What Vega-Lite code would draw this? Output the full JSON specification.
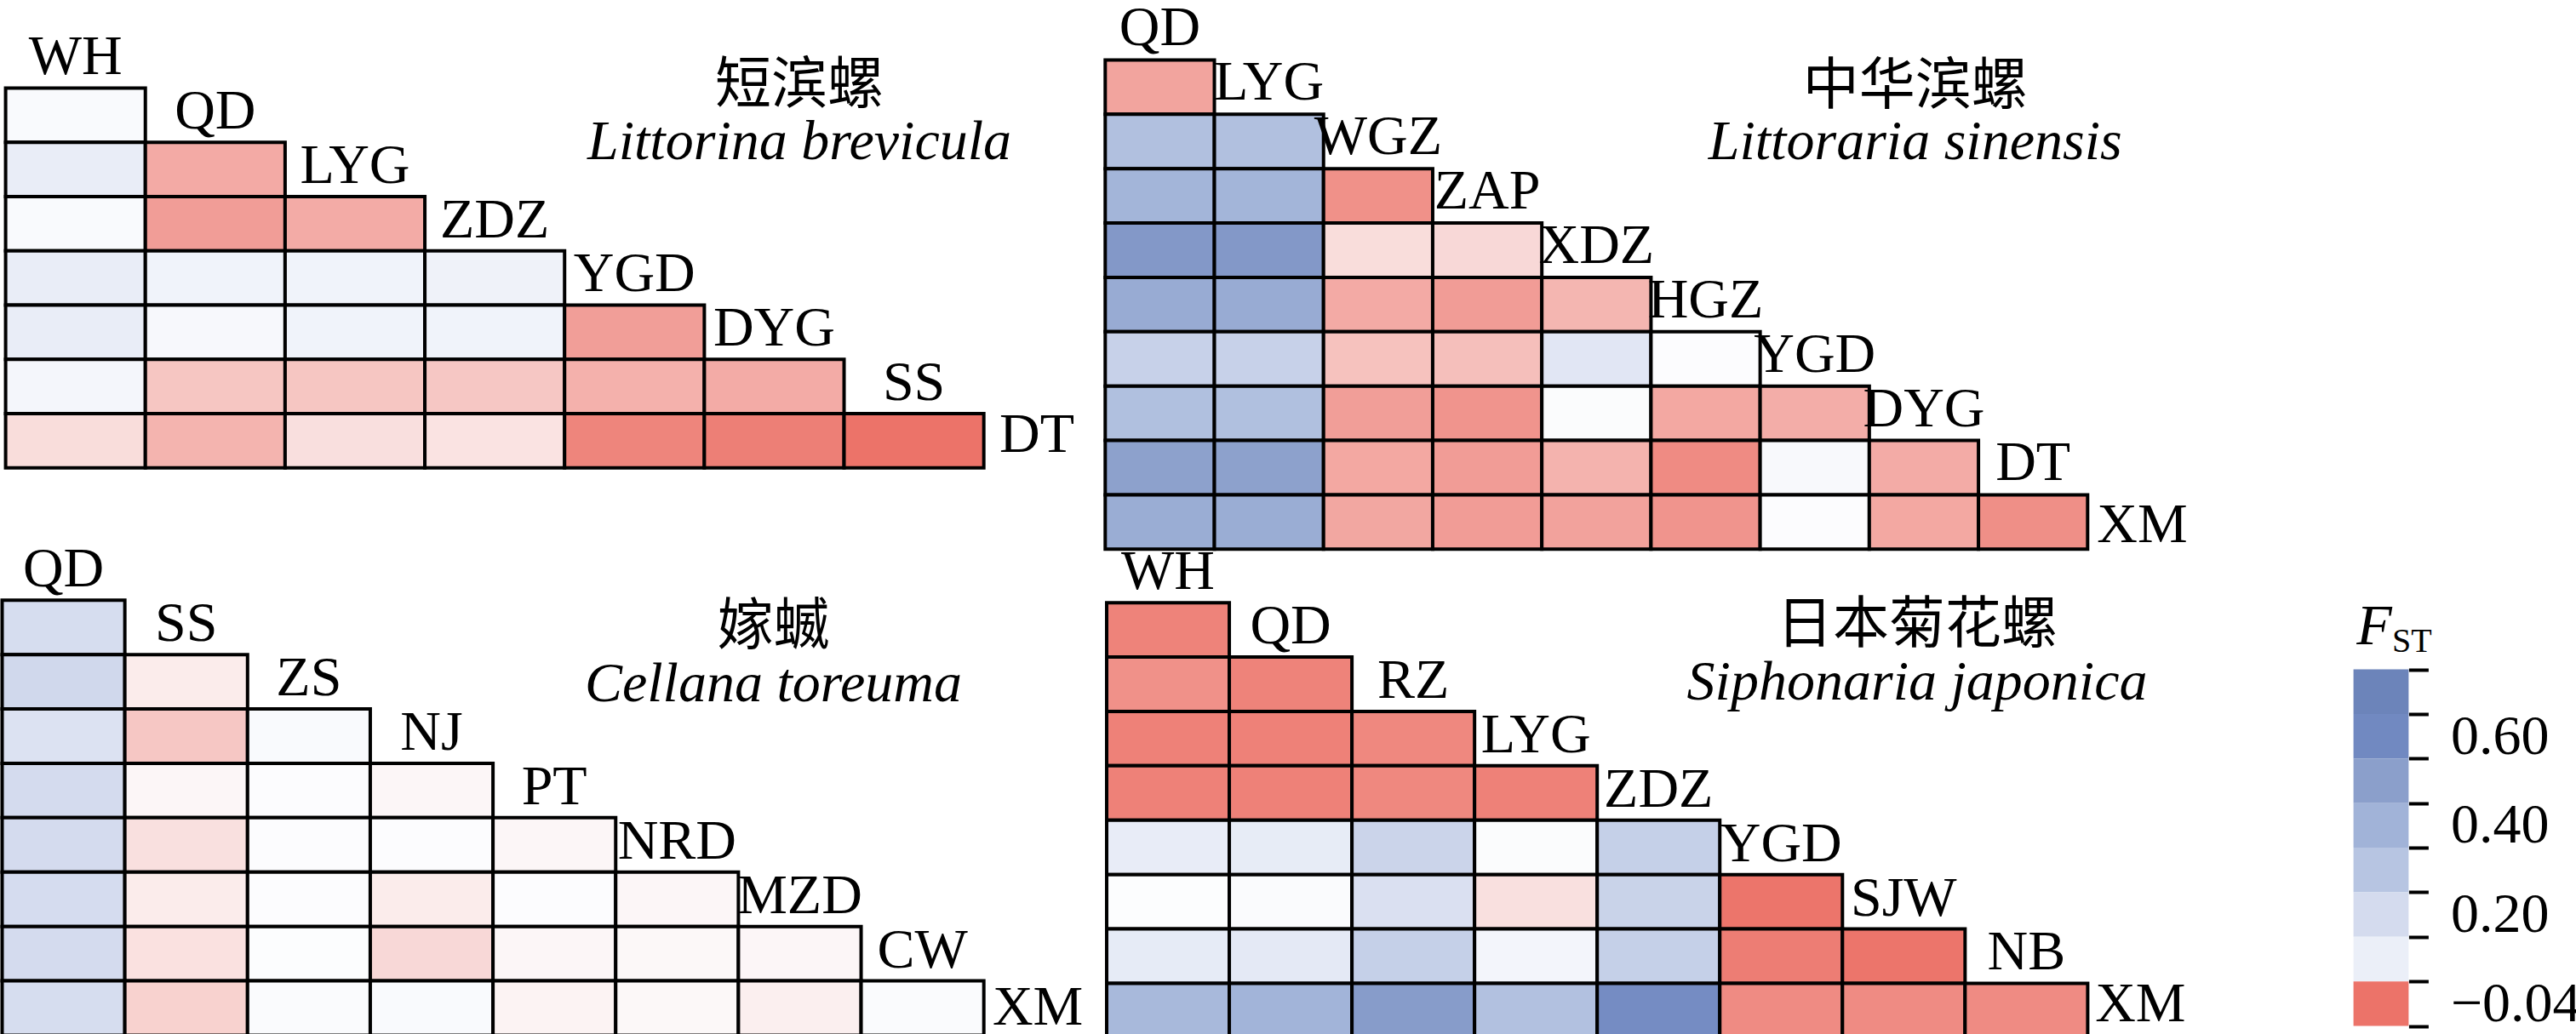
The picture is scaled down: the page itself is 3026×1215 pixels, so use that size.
{
  "$schema": "https://vega.github.io/schema/vega-lite/v6.json",
  "padding": 0,
  "background": "white",
  "bounds": "flush",
  "spacing": 0,
  "columns": 2,
  "config": {"view": {"stroke": null}},
  "datasets": {
    "p1": [
      {"a": "QD", "b": "WH", "v": 0.02},
      {"a": "LYG", "b": "WH", "v": 0.109}, {"a": "LYG", "b": "QD", "v": -0.024},
      {"a": "ZDZ", "b": "WH", "v": 0.02}, {"a": "ZDZ", "b": "QD", "v": -0.0277}, {"a": "ZDZ", "b": "LYG", "v": -0.0237},
      {"a": "YGD", "b": "WH", "v": 0.11}, {"a": "YGD", "b": "QD", "v": 0.072}, {"a": "YGD", "b": "LYG", "v": 0.072}, {"a": "YGD", "b": "ZDZ", "v": 0.08},
      {"a": "DYG", "b": "WH", "v": 0.11}, {"a": "DYG", "b": "QD", "v": 0.035}, {"a": "DYG", "b": "LYG", "v": 0.072}, {"a": "DYG", "b": "ZDZ", "v": 0.072}, {"a": "DYG", "b": "YGD", "v": -0.0274},
      {"a": "SS", "b": "WH", "v": 0.05}, {"a": "SS", "b": "QD", "v": -0.016}, {"a": "SS", "b": "LYG", "v": -0.016}, {"a": "SS", "b": "ZDZ", "v": -0.0157}, {"a": "SS", "b": "YGD", "v": -0.022}, {"a": "SS", "b": "DYG", "v": -0.0237},
      {"a": "DT", "b": "WH", "v": -0.0094}, {"a": "DT", "b": "QD", "v": -0.0211}, {"a": "DT", "b": "LYG", "v": -0.0086}, {"a": "DT", "b": "ZDZ", "v": -0.0074}, {"a": "DT", "b": "YGD", "v": -0.0349}, {"a": "DT", "b": "DYG", "v": -0.0366}, {"a": "DT", "b": "SS", "v": -0.04}
    ],
    "p1lab": [
      {"site": "WH", "row": "QD"}, {"site": "QD", "row": "LYG"}, {"site": "LYG", "row": "ZDZ"}, {"site": "ZDZ", "row": "YGD"},
      {"site": "YGD", "row": "DYG"}, {"site": "DYG", "row": "SS"}, {"site": "SS", "row": "DT"}
    ],
    "p1last": [{"site": "DT", "col": "SS"}],
    "t1": [{"cn": "短滨螺", "la": "Littorina brevicula"}],
    "p2": [
      {"a": "LYG", "b": "QD", "v": -0.0257},
      {"a": "WGZ", "b": "QD", "v": 0.327}, {"a": "WGZ", "b": "LYG", "v": 0.327},
      {"a": "ZAP", "b": "QD", "v": 0.39}, {"a": "ZAP", "b": "LYG", "v": 0.39}, {"a": "ZAP", "b": "WGZ", "v": -0.0314},
      {"a": "XDZ", "b": "QD", "v": 0.53}, {"a": "XDZ", "b": "LYG", "v": 0.53}, {"a": "XDZ", "b": "WGZ", "v": -0.0094}, {"a": "XDZ", "b": "ZAP", "v": -0.0106},
      {"a": "HGZ", "b": "QD", "v": 0.44}, {"a": "HGZ", "b": "LYG", "v": 0.44}, {"a": "HGZ", "b": "WGZ", "v": -0.024}, {"a": "HGZ", "b": "ZAP", "v": -0.028}, {"a": "HGZ", "b": "XDZ", "v": -0.0206},
      {"a": "YGD", "b": "QD", "v": 0.245}, {"a": "YGD", "b": "LYG", "v": 0.245}, {"a": "YGD", "b": "WGZ", "v": -0.0171}, {"a": "YGD", "b": "ZAP", "v": -0.018}, {"a": "YGD", "b": "XDZ", "v": 0.143}, {"a": "YGD", "b": "HGZ", "v": 0.005},
      {"a": "DYG", "b": "QD", "v": 0.33}, {"a": "DYG", "b": "LYG", "v": 0.33}, {"a": "DYG", "b": "WGZ", "v": -0.0274}, {"a": "DYG", "b": "ZAP", "v": -0.0303}, {"a": "DYG", "b": "XDZ", "v": 0.01}, {"a": "DYG", "b": "HGZ", "v": -0.0246}, {"a": "DYG", "b": "YGD", "v": -0.0231},
      {"a": "DT", "b": "QD", "v": 0.49}, {"a": "DT", "b": "LYG", "v": 0.49}, {"a": "DT", "b": "WGZ", "v": -0.0246}, {"a": "DT", "b": "ZAP", "v": -0.028}, {"a": "DT", "b": "XDZ", "v": -0.0214}, {"a": "DT", "b": "HGZ", "v": -0.0331}, {"a": "DT", "b": "YGD", "v": 0.03}, {"a": "DT", "b": "DYG", "v": -0.0237},
      {"a": "XM", "b": "QD", "v": 0.43}, {"a": "XM", "b": "LYG", "v": 0.43}, {"a": "XM", "b": "WGZ", "v": -0.025}, {"a": "XM", "b": "ZAP", "v": -0.028}, {"a": "XM", "b": "XDZ", "v": -0.0263}, {"a": "XM", "b": "HGZ", "v": -0.0303}, {"a": "XM", "b": "YGD", "v": 0.005}, {"a": "XM", "b": "DYG", "v": -0.0246}, {"a": "XM", "b": "DT", "v": -0.032}
    ],
    "p2lab": [
      {"site": "QD", "row": "LYG"}, {"site": "LYG", "row": "WGZ"}, {"site": "WGZ", "row": "ZAP"}, {"site": "ZAP", "row": "XDZ"}, {"site": "XDZ", "row": "HGZ"},
      {"site": "HGZ", "row": "YGD"}, {"site": "YGD", "row": "DYG"}, {"site": "DYG", "row": "DT"}, {"site": "DT", "row": "XM"}
    ],
    "p2last": [{"site": "XM", "col": "DT"}],
    "t2": [{"cn": "中华滨螺", "la": "Littoraria sinensis"}],
    "p3": [
      {"a": "SS", "b": "QD", "v": 0.19},
      {"a": "ZS", "b": "QD", "v": 0.215}, {"a": "ZS", "b": "SS", "v": -0.005},
      {"a": "NJ", "b": "QD", "v": 0.165}, {"a": "NJ", "b": "SS", "v": -0.0157}, {"a": "NJ", "b": "ZS", "v": 0.02},
      {"a": "PT", "b": "QD", "v": 0.2}, {"a": "PT", "b": "SS", "v": -0.002}, {"a": "PT", "b": "ZS", "v": 0.005}, {"a": "PT", "b": "NJ", "v": -0.002},
      {"a": "NRD", "b": "QD", "v": 0.2}, {"a": "NRD", "b": "SS", "v": -0.0083}, {"a": "NRD", "b": "ZS", "v": 0.005}, {"a": "NRD", "b": "NJ", "v": 0.005}, {"a": "NRD", "b": "PT", "v": -0.002},
      {"a": "MZD", "b": "QD", "v": 0.195}, {"a": "MZD", "b": "SS", "v": -0.005}, {"a": "MZD", "b": "ZS", "v": 0.005}, {"a": "MZD", "b": "NJ", "v": -0.005}, {"a": "MZD", "b": "PT", "v": 0.005}, {"a": "MZD", "b": "NRD", "v": -0.002},
      {"a": "CW", "b": "QD", "v": 0.2}, {"a": "CW", "b": "SS", "v": -0.008}, {"a": "CW", "b": "ZS", "v": 0.003}, {"a": "CW", "b": "NJ", "v": -0.0106}, {"a": "CW", "b": "PT", "v": -0.002}, {"a": "CW", "b": "NRD", "v": -0.0015}, {"a": "CW", "b": "MZD", "v": -0.002},
      {"a": "XM", "b": "QD", "v": 0.19}, {"a": "XM", "b": "SS", "v": -0.0126}, {"a": "XM", "b": "ZS", "v": 0.015}, {"a": "XM", "b": "NJ", "v": 0.02}, {"a": "XM", "b": "PT", "v": -0.003}, {"a": "XM", "b": "NRD", "v": -0.0015}, {"a": "XM", "b": "MZD", "v": -0.004}, {"a": "XM", "b": "CW", "v": 0.015}
    ],
    "p3lab": [
      {"site": "QD", "row": "SS"}, {"site": "SS", "row": "ZS"}, {"site": "ZS", "row": "NJ"}, {"site": "NJ", "row": "PT"},
      {"site": "PT", "row": "NRD"}, {"site": "NRD", "row": "MZD"}, {"site": "MZD", "row": "CW"}, {"site": "CW", "row": "XM"}
    ],
    "p3last": [{"site": "XM", "col": "CW"}],
    "t3": [{"cn": "嫁蝛", "la": "Cellana toreuma"}],
    "p4": [
      {"a": "QD", "b": "WH", "v": -0.0354},
      {"a": "RZ", "b": "WH", "v": -0.0314}, {"a": "RZ", "b": "QD", "v": -0.0354},
      {"a": "LYG", "b": "WH", "v": -0.036}, {"a": "LYG", "b": "QD", "v": -0.036}, {"a": "LYG", "b": "RZ", "v": -0.034},
      {"a": "ZDZ", "b": "WH", "v": -0.036}, {"a": "ZDZ", "b": "QD", "v": -0.036}, {"a": "ZDZ", "b": "RZ", "v": -0.034}, {"a": "ZDZ", "b": "LYG", "v": -0.036},
      {"a": "YGD", "b": "WH", "v": 0.113}, {"a": "YGD", "b": "QD", "v": 0.117}, {"a": "YGD", "b": "RZ", "v": 0.231}, {"a": "YGD", "b": "LYG", "v": 0.01}, {"a": "YGD", "b": "ZDZ", "v": 0.252},
      {"a": "SJW", "b": "WH", "v": 0.003}, {"a": "SJW", "b": "QD", "v": 0.015}, {"a": "SJW", "b": "RZ", "v": 0.174}, {"a": "SJW", "b": "LYG", "v": -0.0083}, {"a": "SJW", "b": "ZDZ", "v": 0.238}, {"a": "SJW", "b": "YGD", "v": -0.0394},
      {"a": "NB", "b": "WH", "v": 0.122}, {"a": "NB", "b": "QD", "v": 0.13}, {"a": "NB", "b": "RZ", "v": 0.252}, {"a": "NB", "b": "LYG", "v": 0.056}, {"a": "NB", "b": "ZDZ", "v": 0.252}, {"a": "NB", "b": "YGD", "v": -0.037}, {"a": "NB", "b": "SJW", "v": -0.0394},
      {"a": "XM", "b": "WH", "v": 0.368}, {"a": "XM", "b": "QD", "v": 0.395}, {"a": "XM", "b": "RZ", "v": 0.515}, {"a": "XM", "b": "LYG", "v": 0.323}, {"a": "XM", "b": "ZDZ", "v": 0.585}, {"a": "XM", "b": "YGD", "v": -0.033}, {"a": "XM", "b": "SJW", "v": -0.033}, {"a": "XM", "b": "NB", "v": -0.033}
    ],
    "p4lab": [
      {"site": "WH", "row": "QD"}, {"site": "QD", "row": "RZ"}, {"site": "RZ", "row": "LYG"}, {"site": "LYG", "row": "ZDZ"},
      {"site": "ZDZ", "row": "YGD"}, {"site": "YGD", "row": "SJW"}, {"site": "SJW", "row": "NB"}, {"site": "NB", "row": "XM"}
    ],
    "p4last": [{"site": "XM", "col": "NB"}],
    "t4": [{"cn": "日本菊花螺", "la": "Siphonaria japonica"}],
    "leg": [
      {"key": "0.70", "v": 0.7}, {"key": "0.60", "v": 0.6}, {"key": "0.50", "v": 0.5}, {"key": "0.40", "v": 0.4},
      {"key": "0.30", "v": 0.3}, {"key": "0.20", "v": 0.2}, {"key": "0.10", "v": 0.1}, {"key": "−0.04", "v": -0.04}
    ],
    "legt": [{"sym": "F", "sub": "ST", "bar": "bar"}]
  },
  "concat": [
    {
      "width": 1290, "height": 546.3,
      "layer": [
        {"data": {"name": "p1"}, "mark": {"type": "rect", "stroke": "black", "strokeWidth": 4},
         "encoding": {
           "x": {"field": "b", "type": "nominal", "axis": null, "scale": {"type": "band", "domain": ["WH","QD","LYG","ZDZ","YGD","DYG","SS"], "paddingInner": 0, "paddingOuter": 0.4292, "align": 0.0468, "round": false}},
           "y": {"field": "a", "type": "nominal", "axis": null, "scale": {"type": "band", "domain": ["QD","LYG","ZDZ","YGD","DYG","SS","DT"], "paddingInner": 0, "paddingOuter": 0.7842, "align": 0.964, "round": false}},
           "color": {"field": "v", "type": "quantitative", "legend": null, "scale": {"type": "linear", "domain": [-0.04, 0, 0.1, 0.2, 0.3, 0.4, 0.5, 0.6, 0.7], "range": ["#EC7369", "#FDFDFE", "#EBEFF8", "#D4DBEE", "#B7C5E2", "#A1B3D8", "#8B9FCB", "#7189C1", "#6C84BA"], "interpolate": "rgb", "clamp": true}}
         }},
        {"data": {"name": "p1lab"}, "mark": {"type": "text", "font": "Liberation Serif", "fontSize": 66, "color": "black", "baseline": "alphabetic", "dy": -16},
         "encoding": {
           "x": {"field": "site", "type": "nominal", "axis": null, "scale": {"type": "band", "domain": ["WH","QD","LYG","ZDZ","YGD","DYG","SS"], "paddingInner": 0, "paddingOuter": 0.4292, "align": 0.0468, "round": false}},
           "y": {"field": "row", "type": "nominal", "axis": null, "bandPosition": 0, "scale": {"type": "band", "domain": ["QD","LYG","ZDZ","YGD","DYG","SS","DT"], "paddingInner": 0, "paddingOuter": 0.7842, "align": 0.964, "round": false}},
           "text": {"field": "site"}
         }},
        {"data": {"name": "p1last"}, "mark": {"type": "text", "font": "Liberation Serif", "fontSize": 66, "color": "black", "baseline": "alphabetic", "dy": -19},
         "encoding": {
           "x": {"field": "col", "type": "nominal", "axis": null, "bandPosition": 1.38, "scale": {"type": "band", "domain": ["WH","QD","LYG","ZDZ","YGD","DYG","SS"], "paddingInner": 0, "paddingOuter": 0.4292, "align": 0.0468, "round": false}},
           "y": {"field": "site", "type": "nominal", "axis": null, "bandPosition": 1, "scale": {"type": "band", "domain": ["QD","LYG","ZDZ","YGD","DYG","SS","DT"], "paddingInner": 0, "paddingOuter": 0.7842, "align": 0.964, "round": false}},
           "text": {"field": "site"}
         }},
        {"data": {"name": "t1"}, "mark": {"type": "text", "font": "Noto Sans CJK SC", "fontSize": 66, "color": "black", "baseline": "alphabetic", "align": "center"},
         "encoding": {
           "x": {"datum": "DYG", "type": "nominal", "axis": null, "bandPosition": 0.68, "scale": {"type": "band", "domain": ["WH","QD","LYG","ZDZ","YGD","DYG","SS"], "paddingInner": 0, "paddingOuter": 0.4292, "align": 0.0468, "round": false}},
           "y": {"datum": "QD", "type": "nominal", "axis": null, "bandPosition": 0.276, "scale": {"type": "band", "domain": ["QD","LYG","ZDZ","YGD","DYG","SS","DT"], "paddingInner": 0, "paddingOuter": 0.7842, "align": 0.964, "round": false}},
           "text": {"field": "cn"}
         }},
        {"data": {"name": "t1"}, "mark": {"type": "text", "font": "Liberation Serif", "fontStyle": "italic", "fontSize": 66, "color": "black", "baseline": "alphabetic", "align": "center"},
         "encoding": {
           "x": {"datum": "DYG", "type": "nominal", "axis": null, "bandPosition": 0.68, "scale": {"type": "band", "domain": ["WH","QD","LYG","ZDZ","YGD","DYG","SS"], "paddingInner": 0, "paddingOuter": 0.4292, "align": 0.0468, "round": false}},
           "y": {"datum": "LYG", "type": "nominal", "axis": null, "bandPosition": 0.311, "scale": {"type": "band", "domain": ["QD","LYG","ZDZ","YGD","DYG","SS","DT"], "paddingInner": 0, "paddingOuter": 0.7842, "align": 0.964, "round": false}},
           "text": {"field": "la"}
         }}
      ]
    },
    {
      "width": 1290, "height": 640,
      "layer": [
        {"data": {"name": "p2"}, "mark": {"type": "rect", "stroke": "black", "strokeWidth": 4},
         "encoding": {
           "x": {"field": "b", "type": "nominal", "axis": null, "scale": {"type": "band", "domain": ["QD","LYG","WGZ","ZAP","XDZ","HGZ","YGD","DYG","DT"], "paddingInner": 0, "paddingOuter": 0.5303, "align": 0.061, "round": false}},
           "y": {"field": "a", "type": "nominal", "axis": null, "scale": {"type": "band", "domain": ["LYG","WGZ","ZAP","XDZ","HGZ","YGD","DYG","DT","XM"], "paddingInner": 0, "paddingOuter": 0.5096, "align": 0.9739, "round": false}},
           "color": {"field": "v", "type": "quantitative", "legend": null, "scale": {"type": "linear", "domain": [-0.04, 0, 0.1, 0.2, 0.3, 0.4, 0.5, 0.6, 0.7], "range": ["#EC7369", "#FDFDFE", "#EBEFF8", "#D4DBEE", "#B7C5E2", "#A1B3D8", "#8B9FCB", "#7189C1", "#6C84BA"], "interpolate": "rgb", "clamp": true}}
         }},
        {"data": {"name": "p2lab"}, "mark": {"type": "text", "font": "Liberation Serif", "fontSize": 66, "color": "black", "baseline": "alphabetic", "dy": -17},
         "encoding": {
           "x": {"field": "site", "type": "nominal", "axis": null, "scale": {"type": "band", "domain": ["QD","LYG","WGZ","ZAP","XDZ","HGZ","YGD","DYG","DT"], "paddingInner": 0, "paddingOuter": 0.5303, "align": 0.061, "round": false}},
           "y": {"field": "row", "type": "nominal", "axis": null, "bandPosition": 0, "scale": {"type": "band", "domain": ["LYG","WGZ","ZAP","XDZ","HGZ","YGD","DYG","DT","XM"], "paddingInner": 0, "paddingOuter": 0.5096, "align": 0.9739, "round": false}},
           "text": {"field": "site"}
         }},
        {"data": {"name": "p2last"}, "mark": {"type": "text", "font": "Liberation Serif", "fontSize": 66, "color": "black", "baseline": "alphabetic", "dy": -8},
         "encoding": {
           "x": {"field": "col", "type": "nominal", "axis": null, "bandPosition": 1.5, "scale": {"type": "band", "domain": ["QD","LYG","WGZ","ZAP","XDZ","HGZ","YGD","DYG","DT"], "paddingInner": 0, "paddingOuter": 0.5303, "align": 0.061, "round": false}},
           "y": {"field": "site", "type": "nominal", "axis": null, "bandPosition": 1, "scale": {"type": "band", "domain": ["LYG","WGZ","ZAP","XDZ","HGZ","YGD","DYG","DT","XM"], "paddingInner": 0, "paddingOuter": 0.5096, "align": 0.9739, "round": false}},
           "text": {"field": "site"}
         }},
        {"data": {"name": "t2"}, "mark": {"type": "text", "font": "Noto Sans CJK SC", "fontSize": 66, "color": "black", "baseline": "alphabetic", "align": "center"},
         "encoding": {
           "x": {"datum": "DYG", "type": "nominal", "axis": null, "bandPosition": 0.42, "scale": {"type": "band", "domain": ["QD","LYG","WGZ","ZAP","XDZ","HGZ","YGD","DYG","DT"], "paddingInner": 0, "paddingOuter": 0.5303, "align": 0.061, "round": false}},
           "y": {"datum": "LYG", "type": "nominal", "axis": null, "bandPosition": 0.808, "scale": {"type": "band", "domain": ["LYG","WGZ","ZAP","XDZ","HGZ","YGD","DYG","DT","XM"], "paddingInner": 0, "paddingOuter": 0.5096, "align": 0.9739, "round": false}},
           "text": {"field": "cn"}
         }},
        {"data": {"name": "t2"}, "mark": {"type": "text", "font": "Liberation Serif", "fontStyle": "italic", "fontSize": 66, "color": "black", "baseline": "alphabetic", "align": "center"},
         "encoding": {
           "x": {"datum": "DYG", "type": "nominal", "axis": null, "bandPosition": 0.42, "scale": {"type": "band", "domain": ["QD","LYG","WGZ","ZAP","XDZ","HGZ","YGD","DYG","DT"], "paddingInner": 0, "paddingOuter": 0.5303, "align": 0.061, "round": false}},
           "y": {"datum": "WGZ", "type": "nominal", "axis": null, "bandPosition": 0.825, "scale": {"type": "band", "domain": ["LYG","WGZ","ZAP","XDZ","HGZ","YGD","DYG","DT","XM"], "paddingInner": 0, "paddingOuter": 0.5096, "align": 0.9739, "round": false}},
           "text": {"field": "la"}
         }}
      ]
    },
    {
      "width": 1290, "height": 575,
      "layer": [
        {"data": {"name": "p3"}, "mark": {"type": "rect", "stroke": "black", "strokeWidth": 4},
         "encoding": {
           "x": {"field": "b", "type": "nominal", "axis": null, "scale": {"type": "band", "domain": ["QD","SS","ZS","NJ","PT","NRD","MZD","CW"], "paddingInner": 0, "paddingOuter": 0.4745, "align": 0.01827, "round": false}},
           "y": {"field": "a", "type": "nominal", "axis": null, "scale": {"type": "band", "domain": ["SS","ZS","NJ","PT","NRD","MZD","CW","XM"], "paddingInner": 0, "paddingOuter": 0.5001, "align": 0.9124, "round": false}},
           "color": {"field": "v", "type": "quantitative", "legend": null, "scale": {"type": "linear", "domain": [-0.04, 0, 0.1, 0.2, 0.3, 0.4, 0.5, 0.6, 0.7], "range": ["#EC7369", "#FDFDFE", "#EBEFF8", "#D4DBEE", "#B7C5E2", "#A1B3D8", "#8B9FCB", "#7189C1", "#6C84BA"], "interpolate": "rgb", "clamp": true}}
         }},
        {"data": {"name": "p3lab"}, "mark": {"type": "text", "font": "Liberation Serif", "fontSize": 66, "color": "black", "baseline": "alphabetic", "dy": -16},
         "encoding": {
           "x": {"field": "site", "type": "nominal", "axis": null, "scale": {"type": "band", "domain": ["QD","SS","ZS","NJ","PT","NRD","MZD","CW"], "paddingInner": 0, "paddingOuter": 0.4745, "align": 0.01827, "round": false}},
           "y": {"field": "row", "type": "nominal", "axis": null, "bandPosition": 0, "scale": {"type": "band", "domain": ["SS","ZS","NJ","PT","NRD","MZD","CW","XM"], "paddingInner": 0, "paddingOuter": 0.5001, "align": 0.9124, "round": false}},
           "text": {"field": "site"}
         }},
        {"data": {"name": "p3last"}, "mark": {"type": "text", "font": "Liberation Serif", "fontSize": 66, "color": "black", "baseline": "alphabetic", "dy": -12},
         "encoding": {
           "x": {"field": "col", "type": "nominal", "axis": null, "bandPosition": 1.44, "scale": {"type": "band", "domain": ["QD","SS","ZS","NJ","PT","NRD","MZD","CW"], "paddingInner": 0, "paddingOuter": 0.4745, "align": 0.01827, "round": false}},
           "y": {"field": "site", "type": "nominal", "axis": null, "bandPosition": 1, "scale": {"type": "band", "domain": ["SS","ZS","NJ","PT","NRD","MZD","CW","XM"], "paddingInner": 0, "paddingOuter": 0.5001, "align": 0.9124, "round": false}},
           "text": {"field": "site"}
         }},
        {"data": {"name": "t3"}, "mark": {"type": "text", "font": "Noto Sans CJK SC", "fontSize": 66, "color": "black", "baseline": "alphabetic", "align": "center"},
         "encoding": {
           "x": {"datum": "MZD", "type": "nominal", "axis": null, "bandPosition": 0.285, "scale": {"type": "band", "domain": ["QD","SS","ZS","NJ","PT","NRD","MZD","CW"], "paddingInner": 0, "paddingOuter": 0.4745, "align": 0.01827, "round": false}},
           "y": {"datum": "SS", "type": "nominal", "axis": null, "bandPosition": 0.809, "scale": {"type": "band", "domain": ["SS","ZS","NJ","PT","NRD","MZD","CW","XM"], "paddingInner": 0, "paddingOuter": 0.5001, "align": 0.9124, "round": false}},
           "text": {"field": "cn"}
         }},
        {"data": {"name": "t3"}, "mark": {"type": "text", "font": "Liberation Serif", "fontStyle": "italic", "fontSize": 66, "color": "black", "baseline": "alphabetic", "align": "center"},
         "encoding": {
           "x": {"datum": "MZD", "type": "nominal", "axis": null, "bandPosition": 0.285, "scale": {"type": "band", "domain": ["QD","SS","ZS","NJ","PT","NRD","MZD","CW"], "paddingInner": 0, "paddingOuter": 0.4745, "align": 0.01827, "round": false}},
           "y": {"datum": "ZS", "type": "nominal", "axis": null, "bandPosition": 0.858, "scale": {"type": "band", "domain": ["SS","ZS","NJ","PT","NRD","MZD","CW","XM"], "paddingInner": 0, "paddingOuter": 0.5001, "align": 0.9124, "round": false}},
           "text": {"field": "la"}
         }}
      ]
    },
    {
      "width": 1539.4, "height": 575,
      "resolve": {"scale": {"x": "independent", "y": "independent"}},
      "layer": [
        {"data": {"name": "p4"}, "mark": {"type": "rect", "stroke": "black", "strokeWidth": 4},
         "encoding": {
           "x": {"field": "b", "type": "nominal", "axis": null, "scale": {"type": "band", "domain": ["WH","QD","RZ","LYG","ZDZ","YGD","SJW","NB","XM"], "paddingInner": 0, "paddingOuter": 0.8433, "align": 0.04116, "round": false}},
           "y": {"field": "a", "type": "nominal", "axis": null, "scale": {"type": "band", "domain": ["QD","RZ","LYG","ZDZ","YGD","SJW","NB","XM"], "paddingInner": 0, "paddingOuter": 0.5001, "align": 0.9577, "round": false}},
           "color": {"field": "v", "type": "quantitative", "legend": null, "scale": {"type": "linear", "domain": [-0.04, 0, 0.1, 0.2, 0.3, 0.4, 0.5, 0.6, 0.7], "range": ["#EC7369", "#FDFDFE", "#EBEFF8", "#D4DBEE", "#B7C5E2", "#A1B3D8", "#8B9FCB", "#7189C1", "#6C84BA"], "interpolate": "rgb", "clamp": true}}
         }},
        {"data": {"name": "p4lab"}, "mark": {"type": "text", "font": "Liberation Serif", "fontSize": 66, "color": "black", "baseline": "alphabetic", "dy": -16},
         "encoding": {
           "x": {"field": "site", "type": "nominal", "axis": null, "scale": {"type": "band", "domain": ["WH","QD","RZ","LYG","ZDZ","YGD","SJW","NB","XM"], "paddingInner": 0, "paddingOuter": 0.8433, "align": 0.04116, "round": false}},
           "y": {"field": "row", "type": "nominal", "axis": null, "bandPosition": 0, "scale": {"type": "band", "domain": ["QD","RZ","LYG","ZDZ","YGD","SJW","NB","XM"], "paddingInner": 0, "paddingOuter": 0.5001, "align": 0.9577, "round": false}},
           "text": {"field": "site"}
         }},
        {"data": {"name": "p4last"}, "mark": {"type": "text", "font": "Liberation Serif", "fontSize": 66, "color": "black", "baseline": "alphabetic", "dy": -19},
         "encoding": {
           "x": {"field": "col", "type": "nominal", "axis": null, "bandPosition": 1.43, "scale": {"type": "band", "domain": ["WH","QD","RZ","LYG","ZDZ","YGD","SJW","NB","XM"], "paddingInner": 0, "paddingOuter": 0.8433, "align": 0.04116, "round": false}},
           "y": {"field": "site", "type": "nominal", "axis": null, "bandPosition": 1, "scale": {"type": "band", "domain": ["QD","RZ","LYG","ZDZ","YGD","SJW","NB","XM"], "paddingInner": 0, "paddingOuter": 0.5001, "align": 0.9577, "round": false}},
           "text": {"field": "site"}
         }},
        {"data": {"name": "t4"}, "mark": {"type": "text", "font": "Noto Sans CJK SC", "fontSize": 66, "color": "black", "baseline": "alphabetic", "align": "center"},
         "encoding": {
           "x": {"datum": "SJW", "type": "nominal", "axis": null, "bandPosition": 0.609, "scale": {"type": "band", "domain": ["WH","QD","RZ","LYG","ZDZ","YGD","SJW","NB","XM"], "paddingInner": 0, "paddingOuter": 0.8433, "align": 0.04116, "round": false}},
           "y": {"datum": "QD", "type": "nominal", "axis": null, "bandPosition": 0.733, "scale": {"type": "band", "domain": ["QD","RZ","LYG","ZDZ","YGD","SJW","NB","XM"], "paddingInner": 0, "paddingOuter": 0.5001, "align": 0.9577, "round": false}},
           "text": {"field": "cn"}
         }},
        {"data": {"name": "t4"}, "mark": {"type": "text", "font": "Liberation Serif", "fontStyle": "italic", "fontSize": 66, "color": "black", "baseline": "alphabetic", "align": "center"},
         "encoding": {
           "x": {"datum": "SJW", "type": "nominal", "axis": null, "bandPosition": 0.609, "scale": {"type": "band", "domain": ["WH","QD","RZ","LYG","ZDZ","YGD","SJW","NB","XM"], "paddingInner": 0, "paddingOuter": 0.8433, "align": 0.04116, "round": false}},
           "y": {"datum": "RZ", "type": "nominal", "axis": null, "bandPosition": 0.781, "scale": {"type": "band", "domain": ["QD","RZ","LYG","ZDZ","YGD","SJW","NB","XM"], "paddingInner": 0, "paddingOuter": 0.5001, "align": 0.9577, "round": false}},
           "text": {"field": "la"}
         }},
        {"data": {"name": "leg"}, "mark": {"type": "rect"},
         "encoding": {
           "x": {"datum": "bar", "type": "nominal", "axis": null, "scale": {"type": "band", "domain": ["bar"], "paddingInner": 0.91211, "paddingOuter": 1, "align": 1, "round": false}},
           "y": {"field": "key", "type": "nominal",
                 "scale": {"type": "band", "domain": ["t1","t2","0.70","0.60","0.50","0.40","0.30","0.20","0.10","−0.04"], "paddingInner": 0, "paddingOuter": 0.48926, "align": 0.68, "round": false},
                 "axis": {"orient": "right", "title": null, "domain": false, "tickBand": "extent", "tickSize": 23, "tickWidth": 4, "tickColor": "black",
                          "values": ["0.70","0.60","0.50","0.40","0.30","0.20","0.10","−0.04"],
                          "labelFont": "Liberation Serif", "labelFontSize": 66, "labelColor": "black", "labelPadding": 26, "labelAlign": "left", "labelBaseline": "middle",
                          "labelOverlap": false, "labelBound": false, "labelFlush": false,
                          "labelExpr": "indexof(['0.60','0.40','0.20','−0.04'], datum.label) >= 0 ? datum.label : ''"}},
           "color": {"field": "v", "type": "quantitative", "legend": null, "scale": {"type": "linear", "domain": [-0.04, 0, 0.1, 0.2, 0.3, 0.4, 0.5, 0.6, 0.7], "range": ["#EC7369", "#FDFDFE", "#EBEFF8", "#D4DBEE", "#B7C5E2", "#A1B3D8", "#8B9FCB", "#7189C1", "#6C84BA"], "interpolate": "rgb", "clamp": true}}
         }},
        {"data": {"name": "legt"}, "mark": {"type": "text", "font": "Liberation Serif", "fontStyle": "italic", "fontSize": 68, "color": "black", "baseline": "alphabetic", "align": "center", "dx": -8, "dy": -56},
         "encoding": {
           "x": {"field": "bar", "type": "nominal", "axis": null, "scale": {"type": "band", "domain": ["bar"], "paddingInner": 0.91211, "paddingOuter": 1, "align": 1, "round": false}},
           "y": {"datum": "0.70", "type": "nominal", "axis": null, "scale": {"type": "band", "domain": ["t1","t2","0.70","0.60","0.50","0.40","0.30","0.20","0.10","−0.04"], "paddingInner": 0, "paddingOuter": 0.48926, "align": 0.68, "round": false}},
           "text": {"field": "sym"}
         }},
        {"data": {"name": "legt"}, "mark": {"type": "text", "font": "Liberation Serif", "fontSize": 40, "color": "black", "baseline": "alphabetic", "align": "left", "dx": 13, "dy": -47},
         "encoding": {
           "x": {"field": "bar", "type": "nominal", "axis": null, "scale": {"type": "band", "domain": ["bar"], "paddingInner": 0.91211, "paddingOuter": 1, "align": 1, "round": false}},
           "y": {"datum": "0.70", "type": "nominal", "axis": null, "scale": {"type": "band", "domain": ["t1","t2","0.70","0.60","0.50","0.40","0.30","0.20","0.10","−0.04"], "paddingInner": 0, "paddingOuter": 0.48926, "align": 0.68, "round": false}},
           "text": {"field": "sub"}
         }}
      ]
    }
  ]
}
